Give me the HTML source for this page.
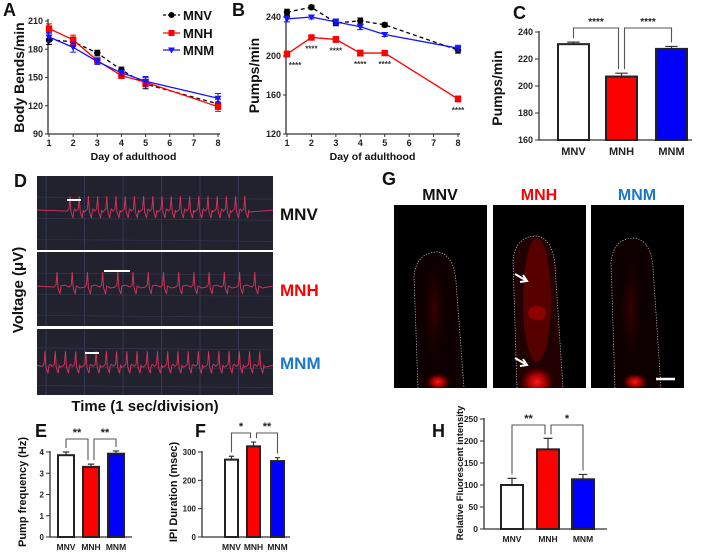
<!DOCTYPE html>
<html><head><meta charset="utf-8"><style>
html,body{margin:0;padding:0;background:#fff;}
svg{display:block;font-family:"Liberation Sans",Arial,sans-serif;}
.tk{font-size:9px;font-weight:bold;fill:#222;}
.ax{font-size:11px;font-weight:bold;fill:#111;}
.lt{font-size:17px;font-weight:bold;fill:#111;}
</style></head><body>
<svg id="fig" width="706" height="552" viewBox="0 0 706 552">
<defs>
<radialGradient id="glow" cx="50%" cy="50%" r="50%"><stop offset="0" stop-color="#ff1a1a"/><stop offset="0.5" stop-color="#c00000" stop-opacity="0.8"/><stop offset="1" stop-color="#400" stop-opacity="0"/></radialGradient>
<radialGradient id="dim" cx="50%" cy="50%" r="50%"><stop offset="0" stop-color="#3a0000"/><stop offset="1" stop-color="#150000" stop-opacity="0"/></radialGradient>
<clipPath id="clip0"><rect x="394" y="205" width="93" height="183"/></clipPath>
<clipPath id="clip1"><rect x="493" y="205" width="93" height="183"/></clipPath>
<clipPath id="clip2"><rect x="591" y="205" width="93" height="183"/></clipPath>
</defs>
<g id="gA"></g>
<g id="gB"></g>
<g id="gC"></g>
<g id="gD"></g>
<g id="gE"></g>
<g id="gF"></g>
<g id="gG"></g>
<g id="gH"></g>
</svg>
<script>
// ---- data ----
const days = [1, 2, 3, 4, 5, 8];
const groups = ["MNV", "MNH", "MNM"];
const bendsMNV = [190, 188, 176, 158, 143, 122];
const bendsMNH = [202, 190, 168, 152, 145, 119];
const bendsMNM = [193, 182, 167, 155, 146, 128];
const bendsErr = [5, 5, 3, 3, 5, 5];
const pumpsMNV = [245, 250, 234, 236, 232, 206];
const pumpsMNH = [202, 219, 217, 203, 203, 156];
const pumpsMNM = [238, 240, 235, 230, 222, 208];
const pumpsErr = [3, 2, 3, 3, 2, 3];
const ticksA = [90, 120, 150, 180, 210];
const ticksB = [120, 160, 200, 240];
const dayTicks = [1, 2, 3, 4, 5, 6, 7, 8];
const meanPumps = [231, 207, 227.5];
const errPumps = [1.5, 2.5, 1.8];
const ticksC = [160, 180, 200, 220, 240];
const freqVals = [3.85, 3.3, 3.92];
const freqErr = [0.15, 0.13, 0.13];
const ticksE = [0, 1, 2, 3, 4];
const ipiVals = [273, 320, 268];
const ipiErr = [12, 15, 12];
const ticksF = [0, 100, 200, 300];
const fluorVals = [100, 181, 113];
const fluorErr = [15, 25, 11];
const ticksH = [0, 50, 100, 150, 200, 250];

const NS = "http://www.w3.org/2000/svg";
function mk(parent, tag, attrs, text) {
  const e = document.createElementNS(NS, tag);
  for (const k in attrs) e.setAttribute(k, attrs[k]);
  if (text !== undefined) e.textContent = text;
  parent.appendChild(e);
  return e;
}
const colors = { MNV: "#000", MNH: "#ff0000", MNM: "#1515ff" };
const fills = ["#fff", "#ff0000", "#0000ff"];

function label(g, x, y, txt, cls, name, extra) {
  const t = mk(g, "text", { x: x, y: y, class: cls }, txt);
  let st = "";
  const ex = extra || {};
  for (const k in ex) {
    if (k === "font-size" || k === "fill") st += k + ":" + ex[k] + ";";
    else t.setAttribute(k, ex[k]);
  }
  if (st) t.setAttribute("style", st);
  
  
  return t;
}

function lineChart(g, cfg) {
  const xs = d => cfg.x0 + (d - 1) * (cfg.x1 - cfg.x0) / 7;
  const ys = v => cfg.yb - (v - cfg.vmin) * (cfg.yb - cfg.yt) / (cfg.vmax - cfg.vmin);
  const axis = mk(g, "path", { d: `M${cfg.x0 - 1},${cfg.yt - 2}V${cfg.yb}H${cfg.x1 + 2}`, stroke: "#333", "stroke-width": 1.3, fill: "none" });
  
  
  cfg.ticks.forEach(v => {
    mk(g, "line", { x1: cfg.x0 - 4, x2: cfg.x0 - 1, y1: ys(v), y2: ys(v), stroke: "#333" });
    label(g, cfg.x0 - 6, ys(v) + 3, v, "tk", "y-tick-label", { "text-anchor": "end" });
  });
  dayTicks.forEach(d => {
    mk(g, "line", { x1: xs(d), x2: xs(d), y1: cfg.yb, y2: cfg.yb + 3, stroke: "#333" });
    label(g, xs(d), cfg.yb + 12, d, "tk", "x-tick-label", { "text-anchor": "middle" });
  });
  label(g, (cfg.x0 + cfg.x1) / 2, cfg.yb + 26, "Day of adulthood", "ax", "x-axis-title", { "text-anchor": "middle", "font-size": "10.5px" });
  label(g, 0, 0, cfg.ylab, "ax", "y-axis-title", { "text-anchor": "middle", "font-size": "14px", transform: `translate(${cfg.ylx},${(cfg.yt + cfg.yb) / 2}) rotate(-90)` });
  cfg.series.forEach((s, si) => {
    const c = colors[s.name];
    const pts = s.vals.map((v, i) => [xs(days[i]), ys(v)]);
    const line = mk(g, "polyline", { points: pts.map(p => p.join(",")).join(" "), fill: "none", stroke: c, "stroke-width": 1.3, "stroke-dasharray": s.name === "MNV" ? "4,3" : "none" });
    
    
    s.vals.forEach((v, i) => {
      const x = xs(days[i]), y = ys(v), e = cfg.err[i];
      mk(g, "path", { d: `M${x},${ys(v + e)}V${ys(v - e)}M${x - 3},${ys(v + e)}h6M${x - 3},${ys(v - e)}h6`, stroke: c, "stroke-width": 1 });
      let m;
      if (s.name === "MNV") m = mk(g, "circle", { cx: x, cy: y, r: 3.2, fill: c });
      else if (s.name === "MNH") m = mk(g, "rect", { x: x - 3.2, y: y - 3.2, width: 6.4, height: 6.4, fill: c });
      else m = mk(g, "path", { d: `M${x - 3.5},${y - 2.5}H${x + 3.5}L${x},${y + 3.5}Z`, fill: c });
      
      
    });
  });
  return { xs: xs, ys: ys };
}

function barChart(g, cfg) {
  const ys = v => cfg.yb - (v - cfg.vmin) * (cfg.yb - cfg.yt) / (cfg.vmax - cfg.vmin);
  const axis = mk(g, "path", { d: `M${cfg.ax},${cfg.yt - 1}V${cfg.yb}H${cfg.axEnd}`, stroke: "#333", "stroke-width": 1.3, fill: "none" });
  
  
  cfg.ticks.forEach(v => {
    mk(g, "line", { x1: cfg.ax - 4, x2: cfg.ax, y1: ys(v), y2: ys(v), stroke: "#333" });
    label(g, cfg.ax - 6, ys(v) + 3, v, "tk", "y-tick-label", { "text-anchor": "end", "font-size": cfg.fs + "px" });
  });
  label(g, 0, 0, cfg.ylab, "ax", "y-axis-title", { "text-anchor": "middle", "font-size": cfg.yfs + "px", transform: `translate(${cfg.ylx},${cfg.ylc}) rotate(-90)` });
  const tops = [];
  cfg.vals.forEach((v, i) => {
    const l = cfg.bx[i], w = cfg.bw, top = ys(v);
    const et = ys(v + cfg.err[i]);
    mk(g, "path", { d: `M${l + w / 2},${top}V${et}M${l + w / 2 - w * 0.2},${et}h${w * 0.4}`, stroke: "#333", "stroke-width": 1.2 });
    const b = mk(g, "rect", { x: l, y: top, width: w, height: cfg.yb - top, fill: fills[i], stroke: "#222", "stroke-width": 2 });
    
    
    label(g, l + w / 2, cfg.yb + cfg.lblOff, groups[i], "tk", "x-tick-label", { "text-anchor": "middle", "font-size": cfg.lfs + "px" });
    tops.push([l + w / 2, et]);
  });
  cfg.sig.forEach((s, k) => {
    const a = tops[s[0]], b = tops[s[1]];
    const xa = a[0] + (k === 1 ? 3 : 0), xb = b[0] - (k === 0 ? 3 : 0);
    const br = mk(g, "path", { d: `M${xa},${a[1] - 4}V${cfg.brY}H${xb}V${b[1] - 4}`, stroke: "#555", "stroke-width": 1.1, fill: "none" });
    
    
    label(g, (xa + xb) / 2, cfg.brY - 3, s[2], "tk", "significance-stars", { "text-anchor": "middle", "font-size": cfg.sfs + "px" });
  });
}

// Panel A
const gA = document.getElementById("gA");
label(gA, 3, 16, "A", "lt", "panel-label-a", { "font-size": "18px" });
lineChart(gA, { x0: 49, x1: 218, yt: 21, yb: 134, vmin: 90, vmax: 210, ticks: ticksA, ylab: "Body Bends/min", ylx: 24, err: bendsErr,
  series: [{ name: "MNV", vals: bendsMNV }, { name: "MNH", vals: bendsMNH }, { name: "MNM", vals: bendsMNM }] });
[["MNV", 15], ["MNH", 33], ["MNM", 50]].forEach(([n, y]) => {
  const c = colors[n];
  const lg = mk(gA, "g", {});
  
  
  mk(lg, "line", { x1: 163, x2: 180, y1: y, y2: y, stroke: c, "stroke-width": 1.3, "stroke-dasharray": n === "MNV" ? "3,2" : "none" });
  if (n === "MNV") mk(lg, "circle", { cx: 171.5, cy: y, r: 3, fill: c });
  else if (n === "MNH") mk(lg, "rect", { x: 168.5, y: y - 3, width: 6, height: 6, fill: c });
  else mk(lg, "path", { d: `M168,${y - 2.5}h7l-3.5,6z`, fill: c });
  mk(lg, "text", { x: 183, y: y + 5, class: "ax", style: "font-size:13px" }, n);
});

// Panel B
const gB = document.getElementById("gB");
label(gB, 232, 16, "B", "lt", "panel-label-b", { "font-size": "18px" });
const sB = lineChart(gB, { x0: 287, x1: 458, yt: 17, yb: 134, vmin: 120, vmax: 240, ticks: ticksB, ylab: "Pumps/min", ylx: 259, err: pumpsErr,
  series: [{ name: "MNV", vals: pumpsMNV }, { name: "MNH", vals: pumpsMNH }, { name: "MNM", vals: pumpsMNM }] });
pumpsMNH.forEach((v, i) => {
  const dx = i === 0 ? 8 : 0;
  label(gB, sB.xs(days[i]) + dx, sB.ys(v) + 14, "****", "tk", "significance-stars", { "text-anchor": "middle", "font-size": "8px", fill: "#333" });
});

// Panel C
const gC = document.getElementById("gC");
label(gC, 513, 19, "C", "lt", "panel-label-c", { "font-size": "18px" });
barChart(gC, { ax: 539, axEnd: 692, yt: 32, yb: 140, vmin: 160, vmax: 240, ticks: ticksC, fs: 9, vals: meanPumps, err: errPumps,
  bx: [558, 606, 656], bw: 31, ylab: "Pumps/min", yfs: 14, ylx: 502, ylc: 88, lblOff: 15, lfs: 11, brY: 28, sfs: 10,
  sig: [[0, 1, "****"], [1, 2, "****"]] });

// Panel D (recordings)
const gD = document.getElementById("gD");
label(gD, 14, 187, "D", "lt", "panel-label-d", { "font-size": "18px" });
label(gD, 0, 0, "Voltage (μV)", "ax", "y-axis-title", { "text-anchor": "middle", "font-size": "15px", transform: "translate(23,290) rotate(-90)" });
label(gD, 145, 411, "Time (1 sec/division)", "ax", "x-axis-title", { "text-anchor": "middle", "font-size": "15px" });
const traces = [
  { y: 176, h: 74, name: "MNV", col: "#111", spikes: 20, start: 70, end: 254, bar: [67, 81] },
  { y: 252, h: 74, name: "MNH", col: "#ff0000", spikes: 14, start: 57, end: 270, bar: [104, 130] },
  { y: 329, h: 66, name: "MNM", col: "#1a78c8", spikes: 22, start: 45, end: 270, bar: [85, 99] }];
traces.forEach((t, k) => {
  const pg = mk(gD, "g", {});
  
  
  mk(pg, "rect", { x: 37, y: t.y, width: 236, height: t.h, fill: "#22222f" });
  for (let gx = 0; gx < 6; gx++) mk(pg, "line", { x1: 46 + gx * 38.5, x2: 46 + gx * 38.5, y1: t.y, y2: t.y + t.h, stroke: "#3b3d5c", "stroke-width": 0.8 });
  for (let gy = 1; gy < 4; gy++) mk(pg, "line", { x1: 37, x2: 273, y1: t.y + gy * t.h / 3.5, y2: t.y + gy * t.h / 3.5 + 2, stroke: "#34364f", "stroke-width": 0.7 });
  const base = t.y + t.h * (k === 2 ? 0.55 : 0.46);
  let d = `M37,${base}`;
  const step = (t.end - t.start) / t.spikes;
  for (let s = 0; s < t.spikes; s++) {
    const x = t.start + s * step;
    d += ` L${x - 3},${base + 1} L${x - 1},${base - 1} L${x},${base - 14} L${x + 1},${base + 2} L${x + 3},${base + 8} L${x + 4},${base} L${x + step * 0.5},${base + (s % 2 ? 2 : -1)}`;
  }
  d += ` L273,${base}`;
  const tr = mk(pg, "path", { d: d, fill: "none", stroke: "#d8335e", "stroke-width": 0.9 });
  
  
  mk(pg, "line", { x1: t.bar[0], x2: t.bar[1], y1: t.y + (k === 1 ? 19 : 24), y2: t.y + (k === 1 ? 19 : 24), stroke: "#fff", "stroke-width": 2 });
  label(gD, 280, t.y + t.h / 2 + 7, t.name, "ax", "trace-label-" + t.name.toLowerCase(), { "font-size": "17px", fill: t.col });
});

// Panel E
const gE = document.getElementById("gE");
label(gE, 35, 437, "E", "lt", "panel-label-e", { "font-size": "18px" });
barChart(gE, { ax: 50, axEnd: 132, yt: 452, yb: 537, vmin: 0, vmax: 4, ticks: ticksE, fs: 8, vals: freqVals, err: freqErr,
  bx: [58, 83, 108], bw: 16, ylab: "Pump frequency (Hz)", yfs: 11, ylx: 26, ylc: 492, lblOff: 13, lfs: 8.5, brY: 439, sfs: 11,
  sig: [[0, 1, "**"], [1, 2, "**"]] });

// Panel F
const gF = document.getElementById("gF");
label(gF, 195, 437, "F", "lt", "panel-label-f", { "font-size": "18px" });
barChart(gF, { ax: 202, axEnd: 290, yt: 452, yb: 537, vmin: 0, vmax: 300, ticks: ticksF, fs: 8, vals: ipiVals, err: ipiErr,
  bx: [225, 247, 271], bw: 13, ylab: "IPI Duration (msec)", yfs: 11, ylx: 177, ylc: 492, lblOff: 13, lfs: 8.5, brY: 433, sfs: 11,
  sig: [[0, 1, "*"], [1, 2, "**"]] });

// Panel G (fluorescence images)
const gG = document.getElementById("gG");
label(gG, 382, 185, "G", "lt", "panel-label-g", { "font-size": "18px" });
const imgs = [
  { x: 394, name: "MNV", col: "#111", top: 252, bright: false },
  { x: 493, name: "MNH", col: "#ff0000", top: 236, bright: true },
  { x: 591, name: "MNM", col: "#1a78c8", top: 238, bright: false }];
imgs.forEach((im, idx) => {
  label(gG, im.x + 46, 200, im.name, "ax", "image-label-" + im.name.toLowerCase(), { "text-anchor": "middle", "font-size": "16px", fill: im.col });
  const ig = mk(gG, "g", { "clip-path": "url(#clip" + idx + ")" });
  
  
  mk(ig, "rect", { x: im.x, y: 205, width: 93, height: 183, fill: "#000" });
  const l = im.x + 20, r = im.x + 66, cx = im.x + 40;
  const outline = `M${l + 4},388 L${l},${im.top + 25} Q${l + 2},${im.top} ${cx + 4},${im.top} Q${r - 6},${im.top + 3} ${r - 4},${im.top + 30} L${r + 4},388`;
  mk(ig, "path", { d: outline + "Z", fill: im.bright ? "#200000" : "#0e0000" });
  if (im.bright) mk(ig, "ellipse", { cx: cx + 4, cy: 300, rx: 14, ry: 62, fill: "#6a0000", opacity: 0.75 });
  else mk(ig, "ellipse", { cx: cx, cy: 310, rx: 12, ry: 55, fill: "url(#dim)" });
  mk(ig, "ellipse", { cx: cx + 4, cy: 382, rx: im.bright ? 18 : 13, ry: im.bright ? 16 : 9, fill: "url(#glow)" });
  if (im.bright) mk(ig, "ellipse", { cx: cx + 4, cy: 313, rx: 9, ry: 7, fill: "#a00000", opacity: 0.8 });
  mk(ig, "path", { d: outline, fill: "none", stroke: "#ccc", "stroke-width": 0.7, "stroke-dasharray": "1.2,1.5" });
});
mk(gG, "path", { d: "M515,274l12,7M523,275l4,6l-7,1M515,358l12,7M523,359l4,6l-7,1", stroke: "#fff", "stroke-width": 2, fill: "none" });
mk(gG, "line", { x1: 656, x2: 675, y1: 379, y2: 379, stroke: "#fff", "stroke-width": 2.5 });

// Panel H
const gH = document.getElementById("gH");
label(gH, 432, 437, "H", "lt", "panel-label-h", { "font-size": "18px" });
barChart(gH, { ax: 484, axEnd: 607, yt: 419, yb: 529, vmin: 0, vmax: 250, ticks: ticksH, fs: 8.5, vals: fluorVals, err: fluorErr,
  bx: [501, 537, 572], bw: 22, ylab: "Relative Fluorescent intensity", yfs: 9.5, ylx: 463, ylc: 473, lblOff: 13, lfs: 8.5, brY: 425, sfs: 11,
  sig: [[0, 1, "**"], [1, 2, "*"]] });
</script>
</body></html>
